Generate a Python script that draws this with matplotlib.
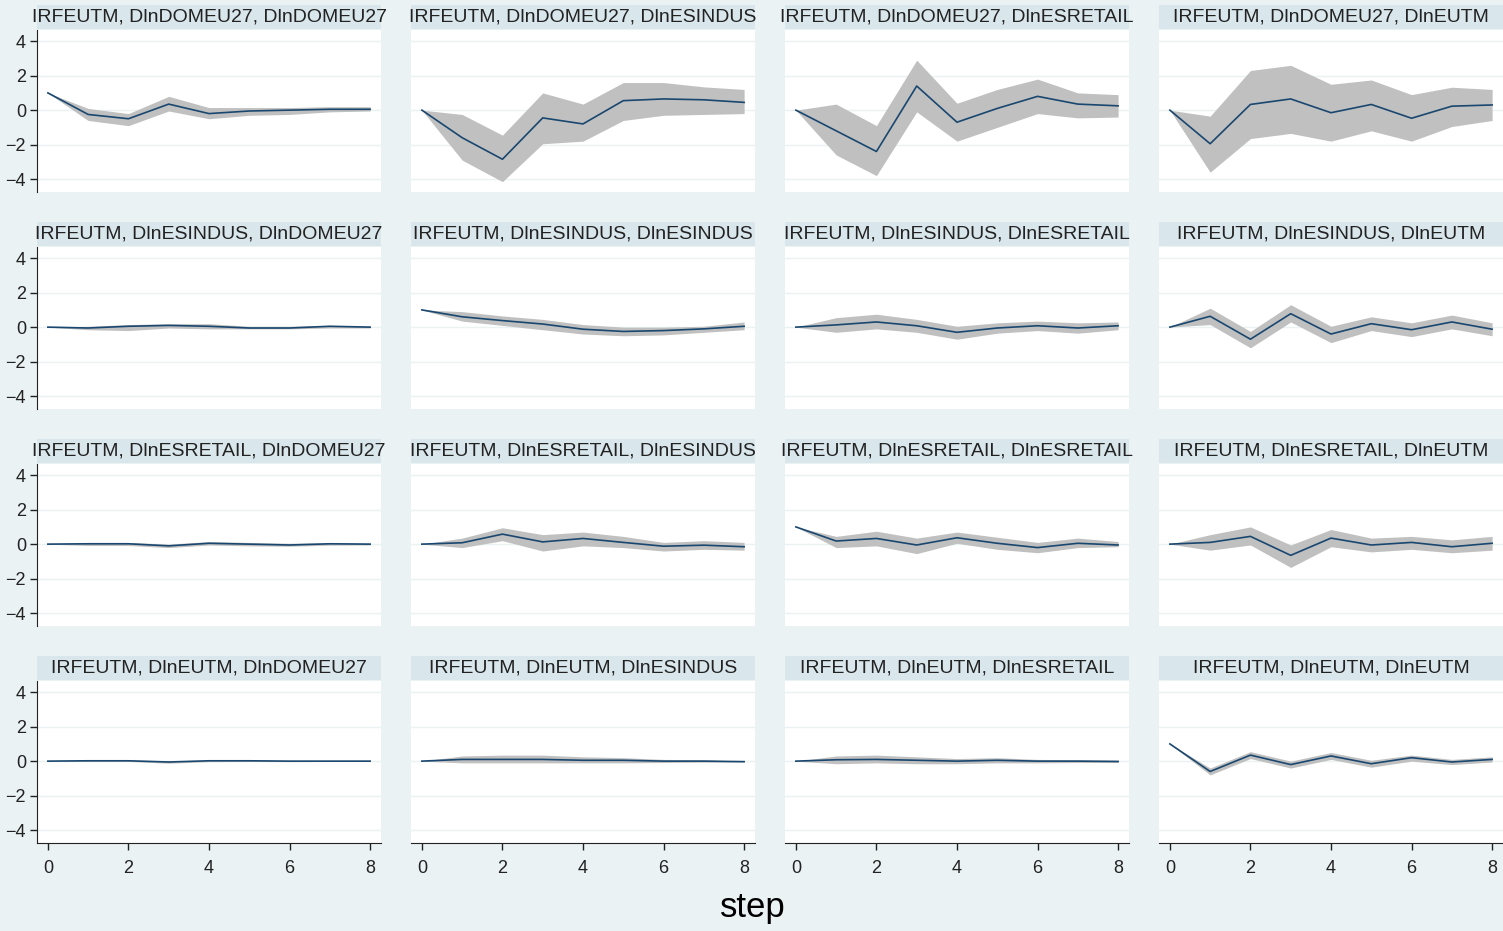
import numpy as np
import matplotlib.pyplot as plt
from matplotlib.patches import Rectangle

BG = '#eaf2f3'
BAND_BG = '#d9e6eb'
LINE_C = '#1a476f'
CI_C = '#c0c0c0'

STEPS = [0, 1, 2, 3, 4, 5, 6, 7, 8]
VARS = ['DlnDOMEU27', 'DlnESINDUS', 'DlnESRETAIL', 'DlnEUTM']

# rows = impulse, inner lists = response (DOMEU27, ESINDUS, ESRETAIL, EUTM)
IRF_DOMEU27 = [
    [1.0, -0.25, -0.5, 0.35, -0.2, -0.05, 0.0, 0.05, 0.05],
    [0, -1.6, -2.85, -0.45, -0.8, 0.55, 0.65, 0.6, 0.45],
    [0, -1.2, -2.4, 1.4, -0.7, 0.1, 0.8, 0.35, 0.25],
    [0, -1.95, 0.33, 0.65, -0.15, 0.33, -0.47, 0.23, 0.3],
]
LO_DOMEU27 = [
    [1.0, -0.6, -0.9, -0.05, -0.5, -0.3, -0.25, -0.1, -0.05],
    [0, -2.9, -4.15, -1.95, -1.8, -0.6, -0.3, -0.25, -0.2],
    [0, -2.6, -3.8, -0.1, -1.8, -1.0, -0.2, -0.45, -0.4],
    [0, -3.6, -1.65, -1.35, -1.8, -1.2, -1.8, -0.95, -0.6],
]
HI_DOMEU27 = [
    [1.0, 0.1, -0.2, 0.8, 0.15, 0.15, 0.15, 0.2, 0.2],
    [0, -0.25, -1.45, 1.0, 0.35, 1.6, 1.6, 1.35, 1.2],
    [0, 0.35, -0.9, 2.9, 0.4, 1.2, 1.8, 1.0, 0.9],
    [0, -0.35, 2.3, 2.6, 1.5, 1.75, 0.9, 1.33, 1.2],
]

IRF_ESINDUS = [
    [0, -0.05, 0.05, 0.1, 0.05, -0.05, -0.05, 0.05, 0.0],
    [1.0, 0.6, 0.38, 0.18, -0.12, -0.25, -0.2, -0.1, 0.05],
    [0, 0.13, 0.3, 0.08, -0.3, -0.05, 0.08, -0.05, 0.08],
    [0, 0.63, -0.7, 0.78, -0.4, 0.2, -0.15, 0.3, -0.12],
]
LO_ESINDUS = [
    [0, -0.15, -0.2, -0.05, -0.1, -0.1, -0.1, -0.05, -0.05],
    [1.0, 0.35, 0.1, -0.15, -0.4, -0.5, -0.45, -0.3, -0.15],
    [0, -0.3, -0.1, -0.3, -0.7, -0.35, -0.2, -0.35, -0.15],
    [0, 0.15, -1.2, 0.3, -0.9, -0.2, -0.55, -0.1, -0.5],
]
HI_ESINDUS = [
    [0, 0.05, 0.15, 0.2, 0.2, 0.05, 0.05, 0.1, 0.05],
    [1.0, 0.9, 0.65, 0.45, 0.15, 0.0, 0.0, 0.05, 0.3],
    [0, 0.55, 0.75, 0.45, 0.05, 0.25, 0.35, 0.25, 0.3],
    [0, 1.1, -0.25, 1.3, 0.05, 0.6, 0.25, 0.7, 0.25],
]

IRF_ESRETAIL = [
    [0, 0.02, 0.02, -0.1, 0.05, 0.0, -0.05, 0.02, 0.0],
    [0, 0.08, 0.58, 0.13, 0.33, 0.1, -0.12, -0.06, -0.15],
    [1.0, 0.18, 0.33, -0.05, 0.37, 0.05, -0.2, 0.05, -0.05],
    [0, 0.1, 0.45, -0.65, 0.35, -0.05, 0.1, -0.15, 0.05],
]
LO_ESRETAIL = [
    [0, -0.08, -0.08, -0.2, -0.05, -0.1, -0.12, -0.06, -0.05],
    [0, -0.2, 0.2, -0.4, -0.1, -0.2, -0.4, -0.3, -0.35],
    [1.0, -0.2, -0.1, -0.55, 0.05, -0.3, -0.5, -0.2, -0.15],
    [0, -0.35, -0.05, -1.35, -0.15, -0.45, -0.3, -0.5, -0.35],
]
HI_ESRETAIL = [
    [0, 0.1, 0.1, 0.0, 0.15, 0.1, 0.05, 0.08, 0.05],
    [0, 0.35, 0.95, 0.55, 0.7, 0.45, 0.1, 0.2, 0.1],
    [1.0, 0.45, 0.75, 0.35, 0.7, 0.4, 0.1, 0.35, 0.15],
    [0, 0.55, 1.0, -0.05, 0.85, 0.35, 0.45, 0.25, 0.45],
]

IRF_EUTM = [
    [0, 0.02, 0.02, -0.05, 0.02, 0.02, 0.0, 0.0, 0.0],
    [0, 0.1, 0.1, 0.1, 0.05, 0.05, 0.0, 0.0, -0.03],
    [0, 0.08, 0.1, 0.05, 0.0, 0.05, 0.0, 0.0, -0.02],
    [1.0, -0.6, 0.35, -0.2, 0.3, -0.15, 0.2, -0.05, 0.1],
]
LO_EUTM = [
    [0, -0.02, -0.02, -0.12, -0.03, -0.02, -0.03, -0.02, -0.02],
    [0, -0.1, -0.1, -0.1, -0.1, -0.1, -0.08, -0.06, -0.05],
    [0, -0.15, -0.1, -0.15, -0.15, -0.1, -0.1, -0.08, -0.08],
    [1.0, -0.8, 0.15, -0.4, 0.1, -0.35, 0.0, -0.2, -0.05],
]
HI_EUTM = [
    [0, 0.06, 0.06, 0.02, 0.06, 0.06, 0.03, 0.02, 0.02],
    [0, 0.3, 0.35, 0.35, 0.25, 0.2, 0.1, 0.08, 0.0],
    [0, 0.3, 0.35, 0.25, 0.15, 0.2, 0.1, 0.08, 0.05],
    [1.0, -0.4, 0.55, 0.0, 0.5, 0.05, 0.35, 0.1, 0.25],
]

IRF = [IRF_DOMEU27, IRF_ESINDUS, IRF_ESRETAIL, IRF_EUTM]
LO = [LO_DOMEU27, LO_ESINDUS, LO_ESRETAIL, LO_EUTM]
HI = [HI_DOMEU27, HI_ESINDUS, HI_ESRETAIL, HI_EUTM]

plt.rcParams['font.family'] = ['Liberation Sans', 'DejaVu Sans']

W, H = 1503, 931
fig = plt.figure(figsize=(W / 100, H / 100), dpi=100, facecolor=BG)

col_left = [37, 411, 785, 1159]
row_top = [30, 247, 464, 681]
pw, ph = 344, 162
band_h = 24

for i in range(4):
    for j in range(4):
        l, t = col_left[j], row_top[i]
        ax = fig.add_axes([l / W, 1 - (t + ph) / H, pw / W, ph / H])
        ax.set_facecolor('white')
        ax.fill_between(STEPS, LO[i][j], HI[i][j], color=CI_C, lw=0, zorder=2)
        ax.plot(STEPS, IRF[i][j], color=LINE_C, lw=1.2, zorder=3)
        ax.set_xlim(-0.27, 8.27)
        ax.set_ylim(-4.75, 4.65)
        ax.set_yticks([-4, -2, 0, 2, 4])
        ax.set_xticks([0, 2, 4, 6, 8])
        ax.grid(axis='y', color=BG, lw=1.0, zorder=0)
        ax.set_axisbelow(True)
        for s in ax.spines.values():
            s.set_visible(False)
        ax.tick_params(axis='both', labelsize=13, length=5, width=1,
                       color='#222222', labelcolor='#222222')
        ax.tick_params(axis='x', pad=7)
        ax.tick_params(axis='y', pad=3)
        if j == 0:
            ax.spines['left'].set_visible(True)
            ax.spines['left'].set_color('#222222')
        else:
            ax.tick_params(axis='y', left=False, labelleft=False)
        if i == 3:
            ax.spines['bottom'].set_visible(True)
            ax.spines['bottom'].set_color('#222222')
        else:
            ax.tick_params(axis='x', bottom=False, labelbottom=False)

        # title band
        bh = band_h / ph
        ax.add_patch(Rectangle((0, 1.005), 1, bh, transform=ax.transAxes,
                               facecolor=BAND_BG, edgecolor='none', clip_on=False))
        ax.text(0.5, 1.005 + bh / 2, 'IRFEUTM, %s, %s' % (VARS[i], VARS[j]),
                transform=ax.transAxes, ha='center', va='center',
                fontsize=14, color='#222222')

fig.text(753 / W, 1 - 908 / H, 'step', ha='center', va='center',
         fontsize=25, color='black')

fig.savefig('out.png', dpi=100, facecolor=BG)
